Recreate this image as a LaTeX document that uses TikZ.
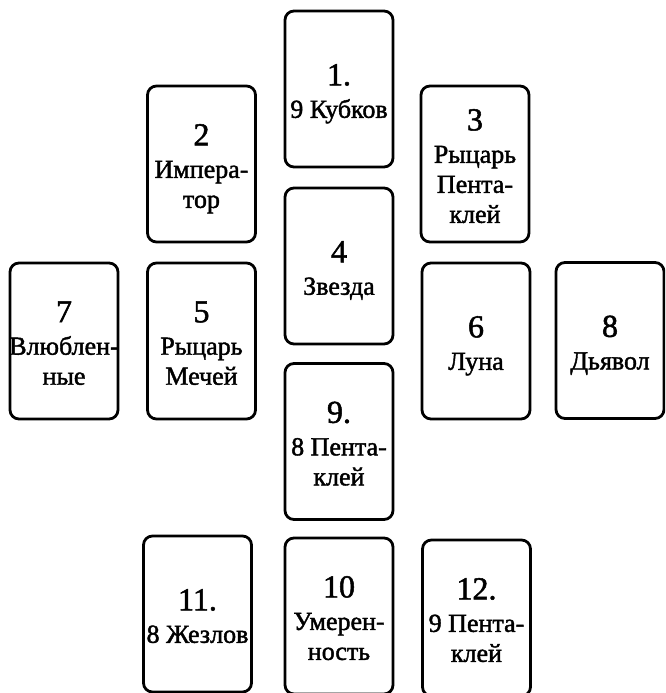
\documentclass[tikz,border=0pt]{standalone}
\usepackage{fontspec}
\setmainfont{Liberation Serif}[FakeBold=1.6]
\newcommand\cardnum[1]{{\fontsize{32}{32}\selectfont #1}\\[2.5pt]}
\begin{document}
\begin{tikzpicture}[x=1pt,y=1pt,
  card/.style={draw, line width=2.8pt, rounded corners=9pt,
    minimum width=108pt, minimum height=156pt, inner sep=0pt},
  lbl/.style={inner sep=0pt, align=center, text depth=0pt,
    font=\fontsize{26}{30}\selectfont}]
\useasboundingbox (0,0) rectangle (665,-693);
\clip (0,0) rectangle (665,-693);
\node[card] (c1)  at (339,-89)    {};
\node[card] (c2)  at (201.5,-164) {};
\node[card] (c3)  at (475,-164)   {};
\node[card] (c4)  at (339,-266)   {};
\node[card] (c7)  at (64,-341)    {};
\node[card] (c5)  at (201.5,-341) {};
\node[card] (c6)  at (476,-341)   {};
\node[card] (c8)  at (610,-340.5) {};
\node[card] (c9)  at (339,-441.5) {};
\node[card] (c11) at (197.5,-614) {};
\node[card] (c10) at (339,-616)   {};
\node[card] (c12) at (476.5,-618) {};
\node[lbl] (t1)  at ([yshift=-2pt]c1.center)  {\cardnum{1.}9 Кубков};
\node[lbl] (t2)  at ([yshift=-2pt]c2.center)  {\cardnum{2}Импера-\\тор};
\node[lbl] (t3)  at ([yshift=-2pt]c3.center)  {\cardnum{3}Рыцарь\\Пента-\\клей};
\node[lbl] (t4)  at ([yshift=-2pt]c4.center)  {\cardnum{4}Звезда};
\node[lbl] (t7)  at ([yshift=-2pt]c7.center)  {\cardnum{7}Влюблен-\\ные};
\node[lbl] (t5)  at ([yshift=-2pt]c5.center)  {\cardnum{5}Рыцарь\\Мечей};
\node[lbl] (t6)  at ([yshift=-2pt]c6.center)  {\cardnum{6}Луна};
\node[lbl] (t8)  at ([yshift=-2pt]c8.center)  {\cardnum{8}Дьявол};
\node[lbl] (t9)  at ([yshift=-2pt]c9.center)  {\cardnum{9.}8 Пента-\\клей};
\node[lbl] (t11) at ([yshift=-2pt]c11.center) {\cardnum{11.}8 Жезлов};
\node[lbl] (t10) at ([yshift=-2pt]c10.center) {\cardnum{10}Умерен-\\ность};
\node[lbl] (t12) at ([yshift=-2pt]c12.center) {\cardnum{12.}9 Пента-\\клей};
\end{tikzpicture}
\end{document}
